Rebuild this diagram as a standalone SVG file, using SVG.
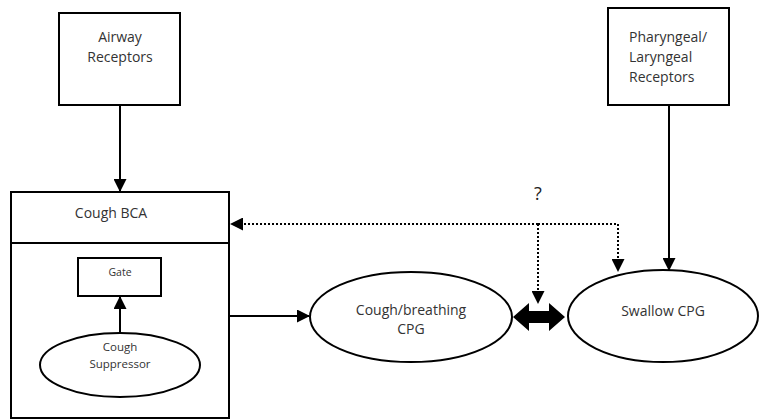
<svg xmlns="http://www.w3.org/2000/svg" width="760" height="420" viewBox="0 0 760 420">
<defs>
<marker id="ah" markerWidth="13" markerHeight="13" refX="12" refY="6.5" orient="auto" markerUnits="userSpaceOnUse">
<path d="M0,0 L13,6.5 L0,13 Z" fill="#000"/>
</marker>
<style>
.box{fill:#fff;stroke:#000;stroke-width:2}
.t{font-family:"Open Sans","Liberation Sans",sans-serif;font-size:14px;fill:#333;text-anchor:middle}
.ln{fill:none;stroke:#000;stroke-width:2}
.dot{fill:none;stroke:#000;stroke-width:2;stroke-dasharray:2 2}
</style>
</defs>
<rect width="760" height="420" fill="#fff"/>
<g id="airway">
<rect class="box" x="59" y="13" width="121" height="92"/>
<text class="t" x="120" y="42">Airway</text>
<text class="t" x="120" y="62">Receptors</text>
</g>
<g id="pharyngeal">
<rect class="box" x="608" y="8" width="121" height="97"/>
<text class="t" x="629" y="42" style="text-anchor:start">Pharyngeal/</text>
<text class="t" x="629" y="62" style="text-anchor:start">Laryngeal</text>
<text class="t" x="629" y="82" style="text-anchor:start">Receptors</text>
</g>
<g id="bca">
<rect class="box" x="11" y="192" width="218" height="226"/>
<line class="ln" x1="11" y1="243" x2="229" y2="243"/>
<text class="t" x="111" y="218">Cough BCA</text>
</g>
<g id="gate">
<rect class="box" x="78" y="258" width="83" height="38"/>
<text class="t" x="120" y="276" style="font-size:10.5px">Gate</text>
</g>
<g id="suppressor">
<ellipse class="box" cx="120" cy="365" rx="80" ry="32"/>
<text class="t" x="120" y="351" style="font-size:11.5px">Cough</text>
<text class="t" x="120" y="368" style="font-size:11.5px">Suppressor</text>
</g>
<g id="coughcpg">
<ellipse class="box" cx="411" cy="317" rx="101" ry="45"/>
<text class="t" x="411" y="315">Cough/breathing</text>
<text class="t" x="411" y="334">CPG</text>
</g>
<g id="swallow">
<ellipse class="box" cx="663" cy="316" rx="95" ry="46"/>
<text class="t" x="663" y="316">Swallow CPG</text>
</g>
<g id="connectors">
<line class="ln" x1="120" y1="106" x2="120" y2="191" marker-end="url(#ah)"/>
<line class="ln" x1="669" y1="106" x2="669" y2="270" marker-end="url(#ah)"/>
<line class="ln" x1="230" y1="316" x2="309" y2="316" marker-end="url(#ah)"/>
<line class="ln" x1="120" y1="333" x2="120" y2="297" marker-end="url(#ah)"/>
<polyline class="dot" points="538,224 231,224" marker-end="url(#ah)"/>
<polyline class="dot" points="538,224 618,224 618,271" marker-end="url(#ah)"/>
<polyline class="dot" points="538,224 538,303" marker-end="url(#ah)"/>
<polygon points="513,317 529,303 529,311 549,311 549,303 565,317 549,331 549,323 529,323 529,331" fill="#000"/>
</g>
<text class="t" x="538" y="200" style="font-size:18px;fill:#222">?</text>
</svg>
